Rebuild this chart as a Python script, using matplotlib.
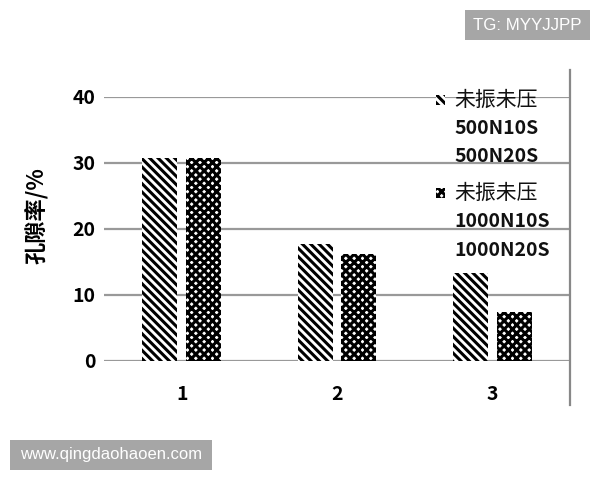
import matplotlib
matplotlib.use("Agg")
import matplotlib.pyplot as plt
from matplotlib.patches import Rectangle
import numpy as np

categories = ["1", "2", "3"]
series_names = ["未振未压", "未振未压"]
series_subs = [["500N10S", "500N20S"], ["1000N10S", "1000N20S"]]
values_500 = [30.8, 17.7, 13.3]
values_1000 = [30.8, 16.2, 7.4]
yticks = [0, 10, 20, 30, 40]

plt.rcParams['font.family'] = ['Noto Sans CJK SC', 'DejaVu Sans']
plt.rcParams['hatch.linewidth'] = 2.2

W, H = 600, 480
fig = plt.figure(figsize=(6, 4.8), dpi=100)
ax = fig.add_axes([104/W, 1-361/H, (570-104)/W, (361-97)/H])

hatch1 = '\\\\\\\\'
hatch2 = 'xxxx'

x = np.arange(1, len(categories) + 1)
w = 0.225
off = 0.14
b1 = ax.bar(x - off, values_500, w, facecolor='white', edgecolor='black',
            hatch=hatch1, linewidth=0)
b2 = ax.bar(x + off, values_1000, w, facecolor='white', edgecolor='black',
            hatch=hatch2, linewidth=0)

ax.set_xlim(0.5, 3.5)
ax.set_ylim(0, 40)
ax.set_yticks(yticks)
ax.set_xticks(x)
ax.set_xticklabels(categories)
ax.yaxis.grid(True, color='#999999', linewidth=1.6)
ax.set_axisbelow(True)
for s in ['left', 'top', 'bottom', 'right']:
    ax.spines[s].set_visible(False)
ax.tick_params(axis='both', length=0, labelsize=14)
for t in ax.get_yticklabels() + ax.get_xticklabels():
    t.set_fontweight('bold')
ax.tick_params(axis='y', pad=6)
ax.tick_params(axis='x', pad=17)

# right boundary line
ax.plot([1, 1], [-0.167, 1.102], transform=ax.transAxes, color='#888888',
        linewidth=1.6, clip_on=False)

ax.set_ylabel('孔隙率/%', fontsize=16, fontweight='bold')
ax.yaxis.set_label_coords(-(104-48)/466, (361-216)/264)

# legend (manual, handle aligned with first line)
def fx(px):
    return px / W

def fy(py):
    return 1 - py / H

groups_y = [100, 193]
line_step = 28.5
for gi, (name, subs) in enumerate(zip(series_names, series_subs)):
    y0 = groups_y[gi]
    hh = hatch1 if gi == 0 else hatch2
    fig.add_artist(Rectangle((fx(436), fy(y0 + 5)), 9/W, 10/H, facecolor='white',
                             edgecolor='black', hatch=hh, linewidth=0,
                             transform=fig.transFigure))
    fig.text(fx(454), fy(y0), name, ha='left', va='center', fontsize=15,
             fontweight='normal', color='#111111')
    for li, s in enumerate(subs):
        fig.text(fx(454), fy(y0 + line_step * (li + 1)), s, ha='left',
                 va='center', fontsize=14, fontweight='bold', color='#111111')

# watermarks
wm_font = ['Liberation Sans', 'DejaVu Sans']
fig.add_artist(Rectangle((fx(465), fy(40)), 125/W, 30/H, facecolor='#a6a6a6',
                         edgecolor='none', transform=fig.transFigure))
fig.text(fx(527.5), fy(25), 'TG: MYYJJPP', ha='center', va='center',
         color='white', fontsize=12.2, family=wm_font)
fig.add_artist(Rectangle((fx(10), fy(470)), 202/W, 30/H, facecolor='#a6a6a6',
                         edgecolor='none', transform=fig.transFigure))
fig.text(fx(111), fy(455), 'www.qingdaohaoen.com', ha='center', va='center',
         color='white', fontsize=12, family=wm_font)

fig.savefig('out.png', dpi=100)
